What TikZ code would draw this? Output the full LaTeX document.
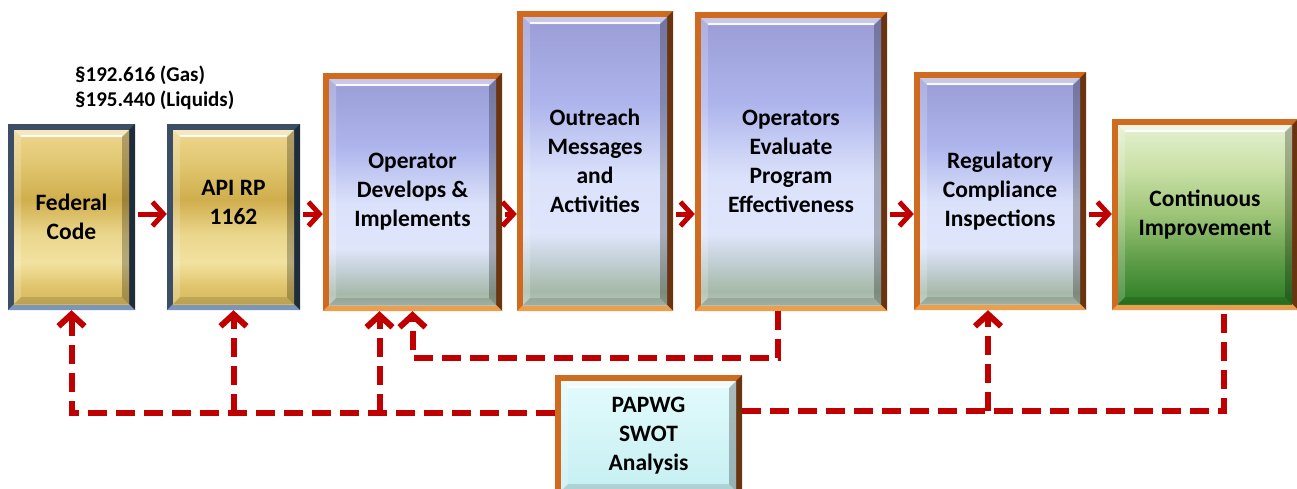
\documentclass[tikz,border=0pt]{standalone}
\usepackage{fontspec}
\setmainfont{Carlito}
\usetikzlibrary{arrows.meta,calc}
\definecolor{myred}{HTML}{C00000}
\definecolor{orTop}{HTML}{CF6A1E}
\definecolor{orRight}{HTML}{6B3410}
\definecolor{orBottom}{HTML}{EC9E4F}
\definecolor{slTop}{HTML}{3B4E66}
\definecolor{slRight}{HTML}{1F2C3C}
\definecolor{slBottom}{HTML}{7B96B8}
\definecolor{lavA}{HTML}{B5C6B7}
\definecolor{lavB}{HTML}{A6B9A9}
\definecolor{lavC}{HTML}{C2CFD4}
\definecolor{lavD}{HTML}{DFE6FB}
\definecolor{lavE}{HTML}{DAE1FA}
\definecolor{lavF}{HTML}{AEB5EC}
\definecolor{lavG}{HTML}{9A9CD6}
\definecolor{goA}{HTML}{D6B95E}
\definecolor{goB}{HTML}{E0C46C}
\definecolor{goC}{HTML}{F2E2A0}
\definecolor{goD}{HTML}{EAD68C}
\definecolor{goE}{HTML}{D0AE4C}
\definecolor{goF}{HTML}{E0C670}
\definecolor{goG}{HTML}{EED68E}
\definecolor{grA}{HTML}{2B7D24}
\definecolor{grB}{HTML}{5E9C48}
\definecolor{grC}{HTML}{9CC476}
\definecolor{grD}{HTML}{C8DFA5}
\definecolor{grE}{HTML}{E4F0D0}
\definecolor{cyA}{HTML}{C6EFF2}
\definecolor{cyB}{HTML}{E3FBFC}
\pgfdeclareverticalshading{lavshade}{100bp}{color(0bp)=(lavA); color(25bp)=(lavA); color(27.5bp)=(lavB); color(32.5bp)=(lavC); color(37.5bp)=(lavD); color(47.5bp)=(lavE); color(60bp)=(lavF); color(75bp)=(lavG); color(100bp)=(lavG)}
\pgfdeclareverticalshading{goldshade}{100bp}{color(0bp)=(goA); color(25bp)=(goA); color(30bp)=(goB); color(37bp)=(goC); color(45bp)=(goD); color(55bp)=(goE); color(65bp)=(goF); color(75bp)=(goG); color(100bp)=(goG)}
\pgfdeclareverticalshading{greenshade}{100bp}{color(0bp)=(grA); color(25bp)=(grA); color(37bp)=(grB); color(50bp)=(grC); color(62bp)=(grD); color(75bp)=(grE); color(100bp)=(grE)}
\pgfdeclareverticalshading{cyanshade}{100bp}{color(0bp)=(cyA); color(25bp)=(cyA); color(75bp)=(cyB); color(100bp)=(cyB)}
\tikzset{
  frR/.store in=\frR, frB/.store in=\frB, shd/.store in=\shd,
  bbox/.style={rectangle, inner sep=0pt, align=center,
    font=\fontsize{23.5}{29}\selectfont\bfseries,
    path picture={
      \path (path picture bounding box.north west) coordinate (pnw)
            (path picture bounding box.south east) coordinate (pse);
      \fill[\frR] (pse) -- (pse |- pnw) -- ([shift={(-6pt,-6pt)}]pse |- pnw) -- ([shift={(-6pt,6pt)}]pse) -- cycle;
      \fill[\frB] (pse) -- (pnw |- pse) -- ([shift={(6pt,6pt)}]pnw |- pse) -- ([shift={(-6pt,6pt)}]pse) -- cycle;
      \shade[shading=\shd] ([shift={(6pt,-6pt)}]pnw) rectangle ([shift={(-6pt,6pt)}]pse);
      \fill[white,opacity=0.45] ([shift={(6pt,-6pt)}]pnw) -- ([shift={(-6pt,-6pt)}]pse |- pnw) -- ([shift={(-13pt,-13pt)}]pse |- pnw) -- ([shift={(13pt,-13pt)}]pnw) -- cycle;
      \draw[white,opacity=0.9,line width=1.5pt] ([shift={(13pt,-12pt)}]pnw) -- ([shift={(-13pt,-12pt)}]pse |- pnw);
      \fill[white,opacity=0.2] ([shift={(6pt,-6pt)}]pnw) -- ([shift={(13pt,-13pt)}]pnw) -- ([shift={(13pt,13pt)}]pnw |- pse) -- ([shift={(6pt,6pt)}]pnw |- pse) -- cycle;
      \fill[black,opacity=0.25] ([shift={(-6pt,-6pt)}]pse |- pnw) -- ([shift={(-13pt,-13pt)}]pse |- pnw) -- ([shift={(-13pt,13pt)}]pse) -- ([shift={(-6pt,6pt)}]pse) -- cycle;
      \fill[black,opacity=0.12] ([shift={(6pt,6pt)}]pnw |- pse) -- ([shift={(-6pt,6pt)}]pse) -- ([shift={(-13pt,13pt)}]pse) -- ([shift={(13pt,13pt)}]pnw |- pse) -- cycle;
    }},
  orbox/.style={bbox, fill=orTop, frR=orRight, frB=orBottom},
  slbox/.style={bbox, fill=slTop, frR=slRight, frB=slBottom, shd=goldshade},
  sarrow/.style={draw=myred, line width=5pt, -{Straight Barb[length=11pt,width=24pt]}, shorten <=3pt},
  dashline/.style={draw=myred, line width=6pt, dash pattern=on 19pt off 9pt},
  uptip/.style={-{Straight Barb[length=12pt,width=26pt]}},
  reftext/.style={font=\fontsize{21}{25}\selectfont\bfseries, align=left, inner sep=0pt}
}
\begin{document}
\begin{tikzpicture}[x=1pt,y=-1pt]
\useasboundingbox (0,0) rectangle (1297,488);
\clip (0,0) rectangle (1297,488);
% boxes
\node[slbox, minimum width=127pt, minimum height=186pt] (fed) at (71.5,217) {Federal\\Code};
\node[slbox, minimum width=133pt, minimum height=186pt] (api) at (233.5,217) {API RP\\1162\\\phantom{X}};
\node[orbox, shd=lavshade, minimum width=179pt, minimum height=238pt] (op) at (412.5,192) {Operator\\Develops \&\\Implements};
\node[orbox, shd=lavshade, minimum width=156pt, minimum height=300pt] (out) at (595,161) {Outreach\\Messages\\and\\Activities};
\node[orbox, shd=lavshade, minimum width=192pt, minimum height=299pt] (eval) at (791,161.5) {Operators\\Evaluate\\Program\\Effectiveness};
\node[orbox, shd=lavshade, minimum width=172pt, minimum height=238pt] (reg) at (1000,191) {Regulatory\\Compliance\\Inspections};
\node[orbox, shd=greenshade, minimum width=186pt, minimum height=191pt] (cont) at (1205,214.5) {Continuous\\Improvement};
\node[orbox, shd=cyanshade, minimum width=187pt, minimum height=122pt] (papwg) at (648.5,436) {PAPWG\\SWOT\\Analysis};
% reference text
\node[reftext, anchor=north west] (ref) at (75,66) {§192.616 (Gas)\\§195.440 (Liquids)};
% flow arrows
\coordinate (ay) at (0,214);
\draw[sarrow] (fed.east |- ay) -- (api.west |- ay);
\draw[sarrow] (api.east |- ay) -- (op.west |- ay);
\draw[sarrow] (op.east |- ay) -- (out.west |- ay);
\draw[sarrow] (out.east |- ay) -- (eval.west |- ay);
\draw[sarrow] (eval.east |- ay) -- (reg.west |- ay);
\draw[sarrow] (reg.east |- ay) -- (cont.west |- ay);
% feedback dashed lines
\coordinate (busL) at (0,413);
\coordinate (busR) at (0,411);
\coordinate (evy) at (0,358);
\draw[dashline, uptip] (papwg.west |- busL) -- (fed.south |- busL) -- (fed.south);
\draw[dashline, uptip] (api.south |- busL) -- (api.south);
\draw[dashline, uptip] ([xshift=-33pt]op.south |- busL) -- ([xshift=-33pt]op.south);
\draw[dashline] (papwg.east |- busR) -- ([xshift=19pt]cont.south |- busR) -- ([shift={(19pt,-3pt)}]cont.south);
\draw[dashline, uptip] ([xshift=-12pt]reg.south |- busR) -- ([xshift=-12pt]reg.south);
\draw[dashline, uptip] ([xshift=-13pt]eval.south) -- ([xshift=-13pt]eval.south |- evy) -- (op.south |- evy) -- (op.south);
\end{tikzpicture}
\end{document}
